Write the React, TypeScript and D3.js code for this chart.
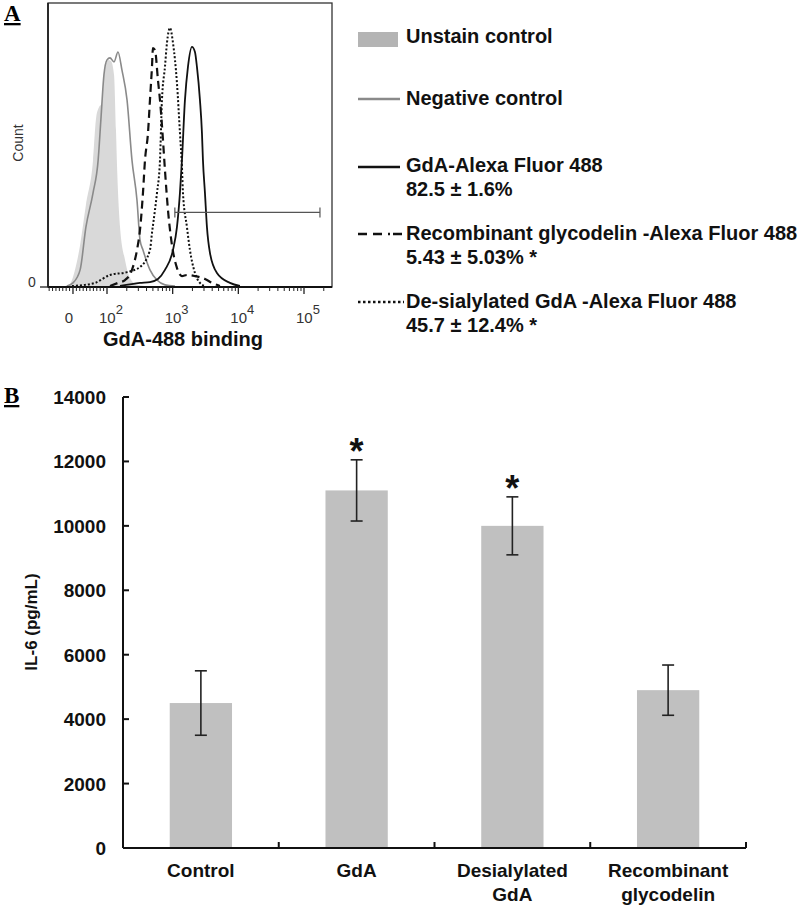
import React from "react";
import * as d3 from "d3";

// ---------- Panel A data (fluorescence intensity, relative count) ----------
const unstainControl: [number, number][] = [[-23,0],[-9,0.7],[6,5.7],[21,14.5],[38,28.6],[59,44.5],[68,59.4],[77,63.3],[85,64.7],[94,77],[104,79.9],[115,79.5],[128,74.6],[137,55.1],[142,42.8],[158,20.8],[188,9.2],[224,2.8],[286,0.4],[379,0]];
const negativeControl: [number, number][] = [[-18,0],[0,1.1],[21,5.7],[38,20.8],[59,32.9],[74,44.5],[82,58.7],[91,74.6],[100,79.9],[111,80.6],[128,79.2],[147,82.7],[169,76.3],[202,65.7],[240,44.5],[286,30.4],[318,16.3],[353,12.7],[451,5.7],[577,2.1],[763,0.4],[1084,0]];
const recombinantGd: [number, number][] = [[111,0],[147,1.1],[188,2.1],[240,5.7],[286,12.7],[318,19.8],[353,32.9],[379,44.5],[421,54.1],[451,65.7],[484,77.4],[501,84.1],[538,83.4],[597,72.8],[641,65.7],[712,51.6],[763,41],[848,26.9],[975,14.5],[1162,6.4],[1385,3.5],[1651,3.9],[2185,3.5],[3102,2.5],[3963,1.1],[5248,0]];
const desialylatedGdA: [number, number][] = [[-3,0],[35,0.4],[65,1.1],[111,3.9],[202,4.9],[318,6.7],[451,12.7],[484,18.7],[538,26.9],[577,32.9],[641,44.5],[687,65.7],[763,77.4],[819,85.9],[910,91.2],[1011,85.9],[1162,71.7],[1291,54.1],[1385,42],[1435,32.9],[1651,20.8],[1833,12.7],[2185,4.6],[2603,1.1],[3102,0]];
const gdA: [number, number][] = [[158,0],[318,1.1],[451,1.4],[597,2.5],[763,5.7],[1011,12.7],[1162,20.8],[1291,32.9],[1385,44.5],[1538,65.7],[1709,77.4],[1966,84.5],[2185,82.7],[2343,77.4],[2603,65.7],[2792,54.1],[2891,44.5],[3102,32.9],[3327,20.8],[3697,11.7],[4722,4.6],[7447,1.1],[10570,0]];
const gateRange = [1080, 175000];
const gateCount = 26;
const majorTicksA = [0, 100, 1000, 10000, 100000];
const majorExpA = ["", "2", "3", "4", "5"];

const legendItems = [
  { label: "Unstain control", sub: "" },
  { label: "Negative control", sub: "" },
  { label: "GdA-Alexa Fluor 488", sub: "82.5 ± 1.6%" },
  { label: "Recombinant glycodelin -Alexa Fluor 488", sub: "5.43 ± 5.03% *" },
  { label: "De-sialylated GdA -Alexa Fluor 488", sub: "45.7 ± 12.4% *" },
];

// ---------- Panel B data ----------
const categories = ["Control", "GdA", "Desialylated GdA", "Recombinant glycodelin"];
const categoryLines = [["Control"], ["GdA"], ["Desialylated", "GdA"], ["Recombinant", "glycodelin"]];
const il6Mean = [4500, 11100, 10000, 4900];
const il6Err = [1000, 950, 900, 780];
const significant = [false, true, true, false];
const yTicksB = [0, 2000, 4000, 6000, 8000, 10000, 12000, 14000];

const SANS = "'Liberation Sans', Arial, Helvetica, sans-serif";
const SERIF = "'Liberation Serif', 'Times New Roman', serif";

// logicle-like transform: log above 100, linear below
function decades(v: number) {
  return v >= 100 ? Math.log10(v) : 2 - (100 - v) / 193;
}

export default function App() {
  // Panel A geometry
  const boxL = 48, boxR = 332, boxT = 3, boxB = 287;
  const xDec = d3.scaleLinear().domain([2, 5]).range([107, 304]);
  const fx = (v: number) => xDec(decades(v));
  const yA = d3.scaleLinear().domain([0, 100]).range([286, boxT]);

  const line = d3.line<[number, number]>().x(d => fx(d[0])).y(d => yA(d[1])).curve(d3.curveMonotoneX);
  const area = d3.area<[number, number]>().x(d => fx(d[0])).y0(yA(0)).y1(d => yA(d[1])).curve(d3.curveMonotoneX);

  // minor ticks
  const minorTicks: number[] = [];
  for (let v = -70; v < 100; v += 10) if (v !== 0) minorTicks.push(v);
  for (let e = 2; e <= 5; e++) for (let m = 2; m <= 9; m++) {
    const v = m * Math.pow(10, e);
    if (fx(v) < boxR) minorTicks.push(v);
  }

  // Panel B geometry
  const x0 = 123, x1 = 746, yB0 = 848, yB1 = 397;
  const xB = d3.scaleBand<string>().domain(categories).range([x0, x1]).paddingInner(0.6).paddingOuter(0.3);
  const yB = d3.scaleLinear().domain([0, 14000]).range([yB0, yB1]);
  const step = xB.step();
  const boundaries = categories.map(c => (xB(c) as number) + xB.bandwidth() / 2 + step / 2);

  const legendY = [43, 105, 172, 240, 308];
  const legendX = 406;

  return (
    <svg width={800} height={908} style={{ position: "absolute", left: 0, top: 0, background: "#fff" }}>
      <rect x={0} y={0} width={800} height={908} fill="#fff" />
      {/* Panel labels */}
      <text x={4} y={21} fontFamily={SERIF} fontWeight="bold" fontSize={23} textDecoration="underline">A</text>
      <text x={4} y={403} fontFamily={SERIF} fontWeight="bold" fontSize={23} textDecoration="underline">B</text>

      {/* ---------- Panel A ---------- */}
      <defs>
        <clipPath id="boxclip"><rect x={boxL} y={boxT} width={boxR - boxL} height={boxB - boxT} /></clipPath>
      </defs>
      <g clipPath="url(#boxclip)">
        <path d={area(unstainControl) || ""} fill="#d9d9d9" />
        <path d={line(negativeControl) || ""} fill="none" stroke="#8a8a8a" strokeWidth={1.6} />
        <path d={line(desialylatedGdA) || ""} fill="none" stroke="#111" strokeWidth={2} strokeDasharray="2,2" />
        <path d={line(recombinantGd) || ""} fill="none" stroke="#111" strokeWidth={2.2} strokeDasharray="8,5" />
        <path d={line(gdA) || ""} fill="none" stroke="#111" strokeWidth={1.8} />
        {/* gate */}
        <line x1={fx(gateRange[0])} x2={fx(gateRange[1])} y1={yA(gateCount)} y2={yA(gateCount)} stroke="#555" strokeWidth={1.2} />
        <line x1={fx(gateRange[0])} x2={fx(gateRange[0])} y1={yA(gateCount) - 5} y2={yA(gateCount) + 5} stroke="#555" strokeWidth={1.2} />
        <line x1={fx(gateRange[1])} x2={fx(gateRange[1])} y1={yA(gateCount) - 5} y2={yA(gateCount) + 5} stroke="#555" strokeWidth={1.2} />
      </g>
      <rect x={boxL} y={boxT} width={boxR - boxL} height={boxB - boxT} fill="none" stroke="#333" strokeWidth={1.3} />
      <line x1={boxL} x2={boxR} y1={boxB} y2={boxB} stroke="#111" strokeWidth={1.8} />
      <line x1={boxL} x2={boxL} y1={boxT} y2={boxB} stroke="#222" strokeWidth={1.8} />
      <line x1={40} x2={boxL} y1={boxB} y2={boxB} stroke="#222" strokeWidth={1.3} />
      {minorTicks.map((v, i) => (
        <line key={"mt" + i} x1={fx(v)} x2={fx(v)} y1={boxB} y2={boxB + 4} stroke="#222" strokeWidth={1} />
      ))}
      {majorTicksA.map((v, i) => (
        <line key={"Mt" + i} x1={fx(v)} x2={fx(v)} y1={boxB} y2={boxB + 7} stroke="#222" strokeWidth={1.3} />
      ))}
      {majorTicksA.map((v, i) => (
        v === 0 ? (
          <text key={"ml" + i} x={fx(v) - 4} y={323} textAnchor="middle" fontFamily={SANS} fontSize={15} fill="#333">0</text>
        ) : (
          <text key={"ml" + i} x={fx(v) - 8} y={323} fontFamily={SANS} fontSize={15} fill="#333">
            10<tspan dy={-9} fontSize={13}>{majorExpA[i]}</tspan>
          </text>
        )
      ))}
      <text x={32} y={287} textAnchor="middle" fontFamily={SANS} fontSize={14} fill="#333">0</text>
      <text transform="translate(23,143) rotate(-90)" textAnchor="middle" fontFamily={SANS} fontSize={14} fill="#333">Count</text>
      <text x={183} y={346} textAnchor="middle" fontFamily={SANS} fontWeight="bold" fontSize={20} fill="#111">GdA-488 binding</text>

      {/* Legend */}
      <rect x={358} y={32} width={40} height={15} fill="#b4b4b4" />
      <line x1={358} x2={400} y1={99} y2={99} stroke="#8a8a8a" strokeWidth={2.5} />
      <line x1={358} x2={400} y1={167} y2={167} stroke="#111" strokeWidth={2.5} />
      <line x1={358} x2={404} y1={234} y2={234} stroke="#111" strokeWidth={2.5} strokeDasharray="9,6,9,6,2,3" />
      <line x1={358} x2={404} y1={302} y2={302} stroke="#111" strokeWidth={2.5} strokeDasharray="2.5,2.5" />
      {legendItems.map((it, i) => (
        <g key={"lg" + i}>
          <text x={legendX} y={legendY[i]} fontFamily={SANS} fontWeight="bold" fontSize={20} fill="#111">{it.label}</text>
          {it.sub && <text x={legendX} y={legendY[i] + 24} fontFamily={SANS} fontWeight="bold" fontSize={20} fill="#111">{it.sub}</text>}
        </g>
      ))}

      {/* ---------- Panel B ---------- */}
      {categories.map((c, i) => {
        const cx = (xB(c) as number) + xB.bandwidth() / 2;
        const top = yB(il6Mean[i] + il6Err[i]);
        const bot = yB(il6Mean[i] - il6Err[i]);
        return (
          <g key={"bar" + i}>
            <rect x={xB(c)} y={yB(il6Mean[i])} width={xB.bandwidth()} height={yB0 - yB(il6Mean[i])} fill="#c0c0c0" />
            <line x1={cx} x2={cx} y1={top} y2={bot} stroke="#222" strokeWidth={1.6} />
            <line x1={cx - 6} x2={cx + 6} y1={top} y2={top} stroke="#222" strokeWidth={1.6} />
            <line x1={cx - 6} x2={cx + 6} y1={bot} y2={bot} stroke="#222" strokeWidth={1.6} />
            {significant[i] && (
              <text x={cx} y={top + 4} textAnchor="middle" fontFamily={SANS} fontWeight="bold" fontSize={36} fill="#111">*</text>
            )}
            {categoryLines[i].map((ln, j) => (
              <text key={j} x={cx} y={877 + j * 24} textAnchor="middle" fontFamily={SANS} fontWeight="bold" fontSize={19} fill="#111">{ln}</text>
            ))}
          </g>
        );
      })}
      <line x1={x0} x2={x0} y1={yB1} y2={yB0} stroke="#111" strokeWidth={2} />
      <line x1={x0} x2={x1} y1={yB0} y2={yB0} stroke="#111" strokeWidth={2} />
      {yTicksB.map((t, i) => (
        <g key={"yt" + i}>
          <line x1={x0} x2={x0 + 6} y1={yB(t)} y2={yB(t)} stroke="#111" strokeWidth={2} />
          <text x={106} y={yB(t) + 7} textAnchor="end" fontFamily={SANS} fontWeight="bold" fontSize={19} fill="#111">{t}</text>
        </g>
      ))}
      {boundaries.map((bx, i) => (
        <line key={"xt" + i} x1={bx} x2={bx} y1={yB0} y2={yB0 - 6} stroke="#111" strokeWidth={2} />
      ))}
      <text transform="translate(37,622) rotate(-90)" textAnchor="middle" fontFamily={SANS} fontWeight="bold" fontSize={17} fill="#111">IL-6 (pg/mL)</text>
    </svg>
  );
}
